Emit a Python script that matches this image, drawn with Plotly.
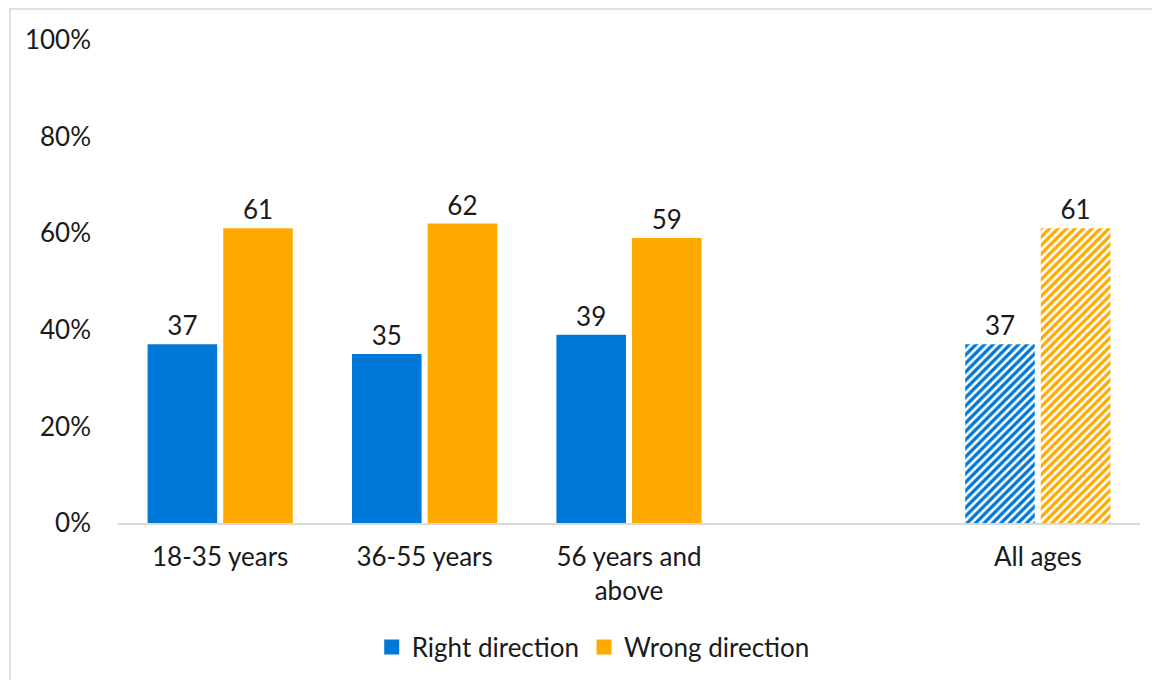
import plotly.graph_objects as go

categories = ["18-35 years", "36-55 years", "56 years and<br>above", " ", "All ages"]
right_direction = [37, 35, 39, None, 37]
wrong_direction = [61, 62, 59, None, 61]
hatched = ["", "", "", "", "/"]
y_ticks = [0, 20, 40, 60, 80, 100]
y_tick_labels = ["0%", "20%", "40%", "60%", "80%", "100%"]

BLUE = "#0078D7"
ORANGE = "#FFAA00"
FONT = "Lato"
FS = 26

def labels(vals):
    return ["" if v is None else str(v) for v in vals]

fig = go.Figure()
series = [("Right direction", right_direction, BLUE),
          ("Wrong direction", wrong_direction, ORANGE)]
for name, vals, col in series:
    fig.add_trace(go.Bar(
        name=name, x=categories, y=vals, showlegend=False,
        text=labels(vals), textposition="outside", cliponaxis=False,
        textfont=dict(size=FS, color="#1a1a1a", family=FONT),
        marker=dict(color=col, line=dict(width=0),
                    pattern=dict(shape=hatched, fgcolor=col, bgcolor="white",
                                 size=6, solidity=0.55, fillmode="replace")),
    ))
# legend swatches (square markers, like the reference legend)
for name, vals, col in series:
    fig.add_trace(go.Scatter(
        name=name, x=[None], y=[None], mode="markers",
        marker=dict(symbol="square", size=15, color=col),
        hoverinfo="skip", showlegend=True,
    ))

# figure sits at an 8px page offset; plot area target (screen) x 118-1140, y 40-523
W, H = 1152, 672
L, R, T, B = 110, 20, 32, 157
pw, ph = W - L - R, H - T - B
bx0 = (2 - L) / pw
bx1 = (W + 20 - L) / pw
by1 = (H - B - 1) / ph
by0 = (H - B - (H + 20)) / ph

fig.update_layout(
    width=W, height=H,
    margin=dict(l=L, r=R, t=T, b=B, autoexpand=False),
    paper_bgcolor="white", plot_bgcolor="white",
    barmode="group", bargap=0.26, bargroupgap=0.08,
    font=dict(family=FONT, size=FS, color="#1a1a1a"),
    showlegend=True,
    legend=dict(orientation="h", x=0.465, xanchor="center", y=-0.257, yanchor="middle",
                font=dict(size=FS, family=FONT), itemwidth=30, traceorder="normal",
                tracegroupgap=0),
    xaxis=dict(showgrid=False, showline=True, linecolor="#D9D9D9", linewidth=2,
               ticks="", tickfont=dict(size=FS, family=FONT), ticklabelstandoff=10,
               fixedrange=True),
    yaxis=dict(range=[0, 100], tickvals=y_ticks, ticktext=y_tick_labels,
               showgrid=False, zeroline=False, showline=False, ticks="",
               tickfont=dict(size=FS, family=FONT), ticklabelstandoff=26),
    shapes=[dict(type="rect", xref="paper", yref="paper",
                 x0=bx0, x1=bx1, y0=by0, y1=by1,
                 line=dict(color="#D9D9D9", width=1.5), fillcolor="rgba(0,0,0,0)",
                 layer="below")],
)

fig.write_html("out.html")
